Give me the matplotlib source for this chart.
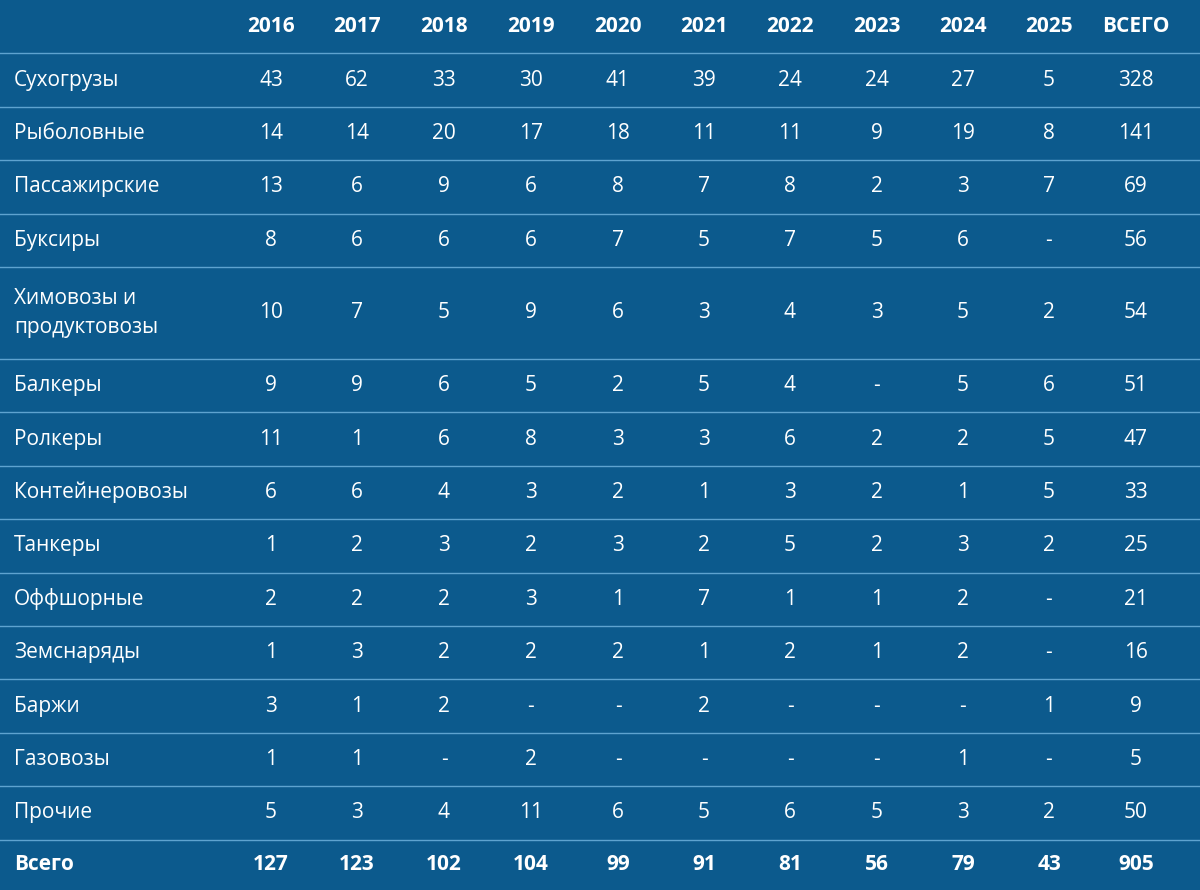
import matplotlib.pyplot as plt

years = ["2016", "2017", "2018", "2019", "2020", "2021", "2022", "2023", "2024", "2025", "ВСЕГО"]
categories = ["Сухогрузы", "Рыболовные", "Пассажирские", "Буксиры", "Химовозы и\nпродуктовозы",
              "Балкеры", "Ролкеры", "Контейнеровозы", "Танкеры", "Оффшорные", "Земснаряды",
              "Баржи", "Газовозы", "Прочие"]
values = [
    ["43", "62", "33", "30", "41", "39", "24", "24", "27", "5", "328"],
    ["14", "14", "20", "17", "18", "11", "11", "9", "19", "8", "141"],
    ["13", "6", "9", "6", "8", "7", "8", "2", "3", "7", "69"],
    ["8", "6", "6", "6", "7", "5", "7", "5", "6", "-", "56"],
    ["10", "7", "5", "9", "6", "3", "4", "3", "5", "2", "54"],
    ["9", "9", "6", "5", "2", "5", "4", "-", "5", "6", "51"],
    ["11", "1", "6", "8", "3", "3", "6", "2", "2", "5", "47"],
    ["6", "6", "4", "3", "2", "1", "3", "2", "1", "5", "33"],
    ["1", "2", "3", "2", "3", "2", "5", "2", "3", "2", "25"],
    ["2", "2", "2", "3", "1", "7", "1", "1", "2", "-", "21"],
    ["1", "3", "2", "2", "2", "1", "2", "1", "2", "-", "16"],
    ["3", "1", "2", "-", "-", "2", "-", "-", "-", "1", "9"],
    ["1", "1", "-", "2", "-", "-", "-", "-", "1", "-", "5"],
    ["5", "3", "4", "11", "6", "5", "6", "5", "3", "2", "50"],
]
total_label = "Всего"
totals = ["127", "123", "102", "104", "99", "91", "81", "56", "79", "43", "905"]

bg = "#0c5a8d"
line_c = "#5ea3d0"
fs = 15
font = "Open Sans"

fig = plt.figure(figsize=(12, 8.9), dpi=100, facecolor=bg)
ax = fig.add_axes([0, 0, 1, 1])
ax.set_facecolor(bg)
ax.set_xlim(0, 1200)
ax.set_ylim(890, 0)
ax.axis("off")

col_x = [271, 357, 444, 531, 618, 704, 790, 877, 963, 1049, 1136]
row_h = 53.4
heights = [row_h] * len(categories)
heights[4] = 92

def draw_row(y0, h, label, cells, bold=False):
    yc = y0 + h / 2
    w = "bold" if bold else "normal"
    ax.text(14, yc, label, color="white", fontsize=fs, fontweight=w, family=font,
            ha="left", va="center", linespacing=1.5)
    for x, v in zip(col_x, cells):
        ax.text(x, yc, v, color="white", fontsize=fs, fontweight=w, family=font,
                ha="center", va="center")

draw_row(0, row_h, "", years, bold=True)
y = row_h
for cat, vals, h in zip(categories, values, heights):
    ax.axhline(y, color=line_c, lw=1)
    draw_row(y, h, cat, vals)
    y += h
ax.axhline(y, color=line_c, lw=1)
draw_row(y, 890 - y, total_label, totals, bold=True)

fig.savefig("out.png", dpi=100, facecolor=bg)
